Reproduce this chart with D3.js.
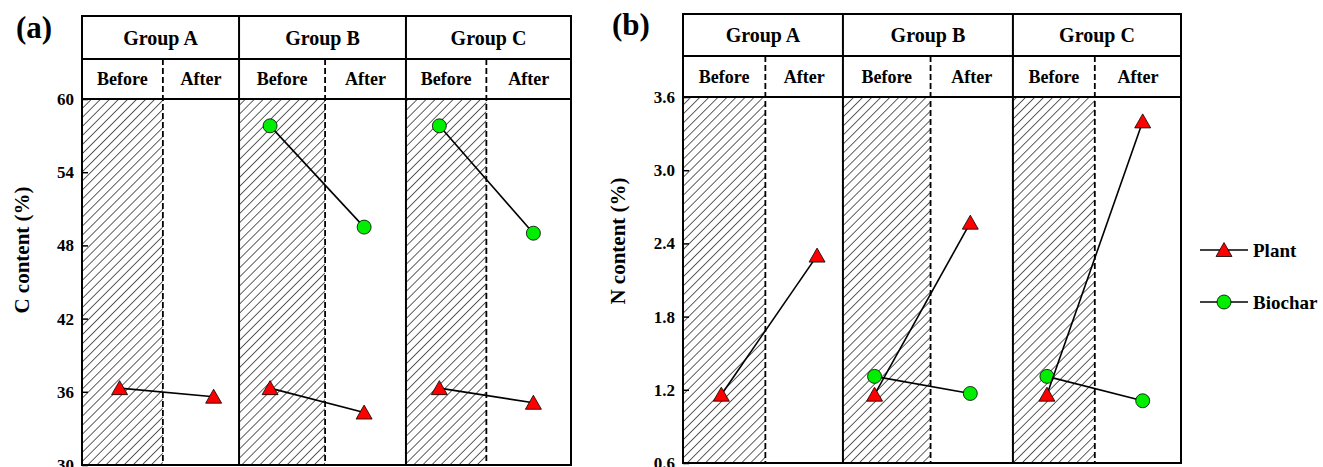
<!DOCTYPE html>
<html><head><meta charset="utf-8">
<script src="https://cdn.jsdelivr.net/npm/d3@7"></script>
<style>
html,body{margin:0;padding:0;background:#fff;}
svg text{font-family:"Liberation Serif","Times New Roman",serif;font-weight:bold;fill:#000;}
</style></head>
<body>
<svg id="chart" width="1323" height="467"></svg>
<script>
// ---------- data ----------
const groups = ["Group A", "Group B", "Group C"];
const phases = ["Before", "After"];
// x positions (data units) of the group cells, before/after divider and points
const groupEdges = [0, 3.34, 6.89, 10.4];
const dividers = [1.72, 5.17, 8.6];
const xBefore = [0.8, 4.0, 7.6];
const xAfter = [2.8, 6.0, 9.6];

const cTicks = [30, 36, 42, 48, 54, 60];
const nTicks = [0.6, 1.2, 1.8, 2.4, 3.0, 3.6];

const plantC_before = [36.3, 36.3, 36.3];
const plantC_after = [35.6, 34.3, 35.1];
const biocharC_before = [null, 57.8, 57.8];
const biocharC_after = [null, 49.5, 49.0];

const plantN_before = [1.16, 1.16, 1.16];
const plantN_after = [2.30, 2.57, 3.40];
const biocharN_before = [null, 1.31, 1.31];
const biocharN_after = [null, 1.17, 1.11];

const seriesNames = ["Plant", "Biochar"];

// ---------- drawing ----------
const svg = d3.select("#chart");
const defs = svg.append("defs");
const pat = defs.append("pattern").attr("id", "hatch")
  .attr("patternUnits", "userSpaceOnUse").attr("width", 6.4).attr("height", 6.4)
  .attr("patternTransform", "rotate(45)");
pat.append("line").attr("x1", 0).attr("y1", 0).attr("x2", 0).attr("y2", 6.4)
  .attr("stroke", "#000").attr("stroke-width", 1.25);

const triPath = "M0,-7.5L8,6.5L-8,6.5Z";

function drawPanel(cfg) {
  const g = svg.append("g");
  const x = d3.scaleLinear().domain([groupEdges[0], groupEdges[3]]).range([cfg.left, cfg.right]);
  const y = d3.scaleLinear().domain([cfg.ticks[0], cfg.ticks[cfg.ticks.length - 1]]).range([cfg.bottom, cfg.plotTop]);

  // hatched "before" cells
  groups.forEach((gr, i) => {
    g.append("rect").attr("x", x(groupEdges[i])).attr("y", cfg.plotTop)
      .attr("width", x(dividers[i]) - x(groupEdges[i])).attr("height", cfg.bottom - cfg.plotTop)
      .attr("fill", "url(#hatch)");
  });

  // dashed dividers
  dividers.forEach(d => {
    g.append("line").attr("x1", x(d)).attr("x2", x(d)).attr("y1", cfg.rowMid).attr("y2", cfg.bottom)
      .attr("stroke", "#000").attr("stroke-width", 1.8).attr("stroke-dasharray", "6,3");
  });

  // frame lines
  const lw = 2;
  [cfg.top, cfg.rowMid, cfg.plotTop, cfg.bottom].forEach(yy => {
    g.append("line").attr("x1", cfg.left).attr("x2", cfg.right).attr("y1", yy).attr("y2", yy)
      .attr("stroke", "#000").attr("stroke-width", lw);
  });
  groupEdges.forEach(e => {
    g.append("line").attr("x1", x(e)).attr("x2", x(e)).attr("y1", cfg.top - 1).attr("y2", cfg.bottom + 1)
      .attr("stroke", "#000").attr("stroke-width", lw);
  });

  // header texts
  groups.forEach((gr, i) => {
    g.append("text").attr("x", (x(groupEdges[i]) + x(groupEdges[i + 1])) / 2)
      .attr("y", (cfg.top + cfg.rowMid) / 2 + 7).attr("text-anchor", "middle")
      .style("font-size", "20px").text(gr);
    g.append("text").attr("x", (x(groupEdges[i]) + x(dividers[i])) / 2)
      .attr("y", (cfg.rowMid + cfg.plotTop) / 2 + 6).attr("text-anchor", "middle")
      .style("font-size", "18px").text(phases[0]);
    g.append("text").attr("x", (x(dividers[i]) + x(groupEdges[i + 1])) / 2)
      .attr("y", (cfg.rowMid + cfg.plotTop) / 2 + 6).attr("text-anchor", "middle")
      .style("font-size", "18px").text(phases[1]);
  });

  // y axis
  const ax = g.append("g").attr("transform", `translate(${cfg.left},0)`)
    .call(d3.axisLeft(y).tickValues(cfg.ticks).tickFormat(cfg.fmt).tickSize(-6).tickPadding(8));
  ax.select(".domain").remove();
  ax.selectAll(".tick line").attr("stroke", "#000").attr("stroke-width", 1.5);
  ax.selectAll(".tick text").style("font-size", "17px")
    .style("font-family", '"Liberation Serif","Times New Roman",serif').style("font-weight", "bold");

  g.append("text").attr("transform", `translate(${cfg.labelX},${cfg.labelY}) rotate(-90)`)
    .attr("text-anchor", "middle").style("font-size", "21px").text(cfg.ylabel);

  g.append("text").attr("x", cfg.tagX).attr("y", cfg.tagY).style("font-size", "31px").text(cfg.tag);

  // series: biochar first, plant over it
  const drawSeries = (bef, aft, kind) => {
    groups.forEach((gr, i) => {
      if (bef[i] == null) return;
      g.append("line").attr("x1", x(xBefore[i])).attr("y1", y(bef[i]))
        .attr("x2", x(xAfter[i])).attr("y2", y(aft[i]))
        .attr("stroke", "#000").attr("stroke-width", 1.6);
    });
    groups.forEach((gr, i) => {
      if (bef[i] == null) return;
      [[xBefore[i], bef[i]], [xAfter[i], aft[i]]].forEach(([px, py]) => {
        if (kind === "tri") {
          g.append("path").attr("d", triPath).attr("transform", `translate(${x(px)},${y(py)})`)
            .attr("fill", "#ff0000").attr("stroke", "#000").attr("stroke-width", 0.8);
        } else {
          g.append("circle").attr("cx", x(px)).attr("cy", y(py)).attr("r", 7)
            .attr("fill", "#00ee00").attr("stroke", "#000").attr("stroke-width", 0.8);
        }
      });
    });
  };
  drawSeries(cfg.bio[0], cfg.bio[1], "circ");
  drawSeries(cfg.plant[0], cfg.plant[1], "tri");
}

drawPanel({left: 82, right: 571, top: 16, rowMid: 59, plotTop: 99, bottom: 465,
  ticks: cTicks, fmt: d3.format("d"), ylabel: "C content (%)", labelX: 29, labelY: 250,
  tag: "(a)", tagX: 16, tagY: 38,
  plant: [plantC_before, plantC_after], bio: [biocharC_before, biocharC_after]});

drawPanel({left: 683, right: 1181, top: 14, rowMid: 56, plotTop: 97, bottom: 463,
  ticks: nTicks, fmt: d3.format(".1f"), ylabel: "N content (%)", labelX: 625, labelY: 241,
  tag: "(b)", tagX: 612, tagY: 35,
  plant: [plantN_before, plantN_after], bio: [biocharN_before, biocharN_after]});

// legend
const leg = svg.append("g");
seriesNames.forEach((s, i) => {
  const ly = 250 + i * 52;
  leg.append("line").attr("x1", 1200).attr("x2", 1248).attr("y1", ly).attr("y2", ly)
    .attr("stroke", "#000").attr("stroke-width", 1.6);
  if (i === 0) {
    leg.append("path").attr("d", triPath).attr("transform", `translate(1224,${ly})`)
      .attr("fill", "#ff0000").attr("stroke", "#000").attr("stroke-width", 0.8);
  } else {
    leg.append("circle").attr("cx", 1224).attr("cy", ly).attr("r", 7)
      .attr("fill", "#00ee00").attr("stroke", "#000").attr("stroke-width", 0.8);
  }
  leg.append("text").attr("x", 1253).attr("y", ly + 7).style("font-size", "19px").text(s);
});
</script>
</body></html>
